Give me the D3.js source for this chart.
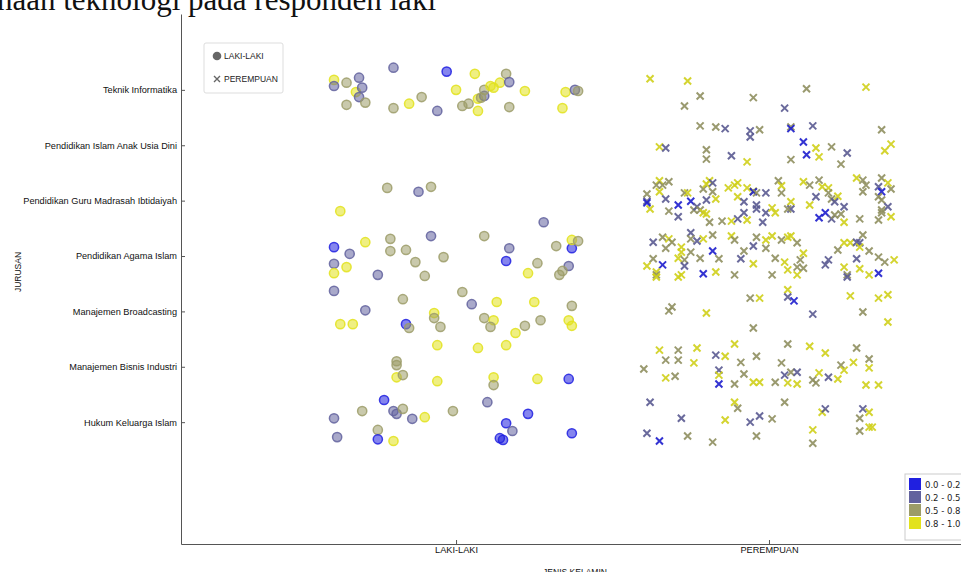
<!DOCTYPE html>
<html>
<head>
<meta charset="utf-8">
<script src="https://cdn.jsdelivr.net/npm/d3@7"></script>
<style>
  body { margin: 0; background: #fff; }
  svg { display: block; }
</style>
</head>
<body>
<svg></svg>
<script>
// kategori sumbu Y (atas ke bawah)
const jurusan = [
    'Teknik Informatika',
    'Pendidikan Islam Anak Usia Dini',
    'Pendidikan Guru Madrasah Ibtidaiyah',
    'Pendidikan Agama Islam',
    'Manajemen Broadcasting',
    'Manajemen Bisnis Industri',
    'Hukum Keluarga Islam'
];
const jenisKelamin = ['LAKI-LAKI', 'PEREMPUAN'];
const kelasNilai = ['0.0 - 0.2', '0.2 - 0.5', '0.5 - 0.8', '0.8 - 1.0'];

// [posisi jenis kelamin (dengan jitter), posisi jurusan (dengan jitter), kelas nilai]
const lakiLaki = [
    [-0.39, -0.18, 3], [-0.39, -0.07, 1], [-0.35, -0.13, 2], [-0.31, -0.22, 1], [-0.32, 0.04, 3],
    [-0.30, -0.04, 1], [-0.31, 0.13, 1], [-0.35, 0.27, 2], [-0.29, 0.23, 2], [-0.20, -0.40, 1],
    [-0.20, 0.33, 2], [-0.15, 0.25, 3], [-0.11, 0.13, 2], [-0.06, 0.38, 1], [-0.03, -0.33, 0],
    [0.00, 0.00, 3], [0.02, 0.29, 2], [0.04, 0.25, 2], [0.06, -0.29, 3], [0.07, 0.38, 3],
    [0.07, 0.16, 3], [0.09, 0.11, 1], [0.08, 0.14, 2], [0.09, 0.00, 2], [0.11, -0.07, 3],
    [0.12, -0.04, 3], [0.14, -0.13, 3], [0.16, -0.29, 2], [0.17, -0.14, 1], [0.17, 0.31, 2],
    [0.22, 0.02, 3], [0.34, 0.33, 3], [0.35, 0.04, 3], [0.38, 0.00, 1], [0.39, 0.02, 2],
    [-0.22, 1.77, 2], [-0.12, 1.84, 1], [-0.08, 1.75, 2], [-0.37, 2.19, 3], [0.28, 2.39, 1],
    [-0.39, 2.84, 0], [-0.34, 2.96, 1], [-0.29, 2.75, 3], [-0.21, 2.69, 2], [-0.21, 2.91, 2],
    [-0.16, 2.89, 2], [-0.08, 2.64, 1], [-0.13, 3.11, 2], [-0.04, 3.02, 2], [-0.39, 3.14, 1],
    [-0.35, 3.20, 3], [-0.39, 3.31, 3], [-0.25, 3.34, 1], [-0.10, 3.36, 2], [0.09, 2.64, 2],
    [0.17, 2.86, 1], [0.16, 3.09, 0], [0.26, 3.13, 2], [0.23, 3.31, 3], [0.32, 2.82, 2],
    [0.37, 2.86, 0], [0.37, 2.71, 3], [0.39, 2.73, 2], [0.36, 3.18, 1], [0.34, 3.27, 2],
    [0.33, 3.34, 2],
    [-0.39, 3.63, 1], [-0.17, 3.78, 2], [0.02, 3.65, 2], [0.05, 3.87, 1], [0.13, 3.83, 3],
    [0.25, 3.83, 3], [0.37, 3.90, 2], [-0.29, 3.98, 1], [-0.37, 4.23, 3], [-0.33, 4.23, 3],
    [-0.16, 4.23, 0], [-0.15, 4.30, 2], [-0.07, 4.03, 3], [-0.07, 4.12, 2], [-0.05, 4.28, 2],
    [0.09, 4.12, 2], [0.12, 4.16, 3], [0.11, 4.28, 2], [0.19, 4.39, 3], [0.22, 4.26, 2],
    [0.27, 4.16, 2], [0.36, 4.16, 3], [0.37, 4.26, 3],
    [-0.06, 4.61, 3], [0.07, 4.66, 3], [0.16, 4.61, 3], [-0.19, 4.90, 2], [-0.19, 4.97, 2],
    [-0.19, 5.19, 3], [-0.17, 5.15, 2], [-0.06, 5.26, 3], [0.12, 5.19, 3], [0.12, 5.33, 2],
    [0.26, 5.22, 3], [0.36, 5.22, 0],
    [-0.23, 5.60, 0], [-0.30, 5.80, 2], [-0.20, 5.80, 1], [-0.19, 5.85, 1], [-0.17, 5.76, 2],
    [-0.39, 5.93, 1], [-0.14, 5.94, 1], [-0.10, 5.91, 3], [-0.01, 5.80, 2], [0.10, 5.64, 1],
    [0.23, 5.85, 0], [0.16, 6.02, 0], [0.18, 6.16, 1], [-0.25, 6.14, 2], [-0.38, 6.27, 1],
    [-0.25, 6.31, 0], [-0.20, 6.34, 3], [0.14, 6.29, 0], [0.15, 6.32, 0], [0.37, 6.20, 0]
];

const perempuan = [
    [0.62, -0.20, 3], [0.74, -0.16, 3], [0.78, 0.11, 2], [0.73, 0.29, 2], [0.95, 0.14, 2],
    [1.12, -0.02, 2], [1.31, -0.05, 3], [1.05, 0.33, 1],
    [0.78, 0.65, 2], [0.83, 0.67, 2], [0.86, 0.70, 1], [0.94, 0.74, 1], [0.94, 0.85, 1],
    [0.97, 0.72, 2], [1.07, 0.67, 2], [1.07, 0.70, 0], [1.14, 0.65, 1], [1.36, 0.72, 2],
    [0.65, 1.03, 3], [0.67, 1.05, 1], [0.80, 1.08, 2], [0.80, 1.25, 2], [0.88, 1.19, 1],
    [0.93, 1.30, 3], [1.07, 1.26, 2], [1.11, 0.94, 0], [1.12, 1.17, 0], [1.15, 1.05, 3],
    [1.16, 1.21, 3], [1.20, 1.03, 2], [1.25, 1.14, 1], [1.39, 0.98, 3], [1.37, 1.10, 3],
    [1.23, 1.34, 2],
    [0.65, 1.64, 3], [0.64, 1.72, 2], [0.66, 1.72, 2], [0.68, 1.66, 2], [0.65, 1.84, 3],
    [0.61, 1.88, 2], [0.61, 2.01, 1], [0.61, 2.04, 0], [0.62, 2.15, 3], [0.67, 1.97, 1],
    [0.71, 2.08, 0], [0.73, 1.86, 2], [0.74, 1.86, 3], [0.75, 2.01, 0], [0.68, 2.19, 2],
    [0.71, 2.29, 1], [0.76, 2.17, 2], [0.77, 2.11, 1], [0.78, 2.17, 2], [0.79, 2.22, 3],
    [0.80, 1.99, 1], [0.79, 1.79, 2], [0.81, 1.64, 3], [0.80, 1.70, 3], [0.82, 1.68, 1],
    [0.82, 1.84, 2], [0.83, 1.97, 3], [0.80, 2.24, 3], [0.81, 2.39, 2], [0.85, 2.37, 2],
    [0.88, 2.37, 3], [0.87, 1.77, 3], [0.89, 1.72, 3], [0.90, 1.68, 3], [0.90, 1.93, 3],
    [0.92, 2.02, 1], [0.92, 2.22, 1], [0.90, 2.33, 1], [0.93, 2.35, 3], [0.93, 1.77, 3],
    [0.95, 1.83, 3], [0.95, 1.84, 0], [0.96, 1.86, 2], [0.96, 2.08, 1], [0.96, 2.15, 1],
    [0.99, 1.86, 1], [0.99, 2.22, 1], [0.98, 2.39, 1], [1.01, 2.13, 3], [1.02, 2.22, 3],
    [1.03, 1.64, 2], [1.04, 1.73, 3], [1.04, 1.86, 2], [1.07, 2.02, 3], [1.07, 2.15, 1],
    [1.06, 2.15, 2], [1.11, 1.66, 3], [1.13, 1.72, 2], [1.13, 2.08, 3], [1.15, 1.93, 1],
    [1.16, 1.63, 2], [1.17, 1.75, 3], [1.19, 1.77, 3], [1.19, 1.86, 2], [1.20, 1.97, 2],
    [1.22, 1.92, 3], [1.21, 2.02, 1], [1.24, 2.11, 1], [1.18, 2.22, 0], [1.16, 2.31, 0],
    [1.20, 2.33, 1], [1.21, 2.26, 2], [1.23, 2.24, 2], [1.24, 2.39, 3], [1.28, 1.59, 3],
    [1.30, 1.63, 2], [1.31, 1.72, 2], [1.30, 1.84, 2], [1.36, 1.59, 2], [1.38, 1.68, 3],
    [1.35, 1.75, 1], [1.36, 1.84, 0], [1.39, 1.79, 2], [1.35, 1.93, 2], [1.36, 1.99, 2],
    [1.38, 2.11, 1], [1.36, 2.17, 2], [1.36, 2.22, 2], [1.35, 2.35, 2], [1.39, 2.29, 3],
    [1.29, 2.33, 2],
    [0.63, 2.75, 1], [0.66, 2.66, 2], [0.68, 2.69, 3], [0.69, 2.75, 2], [0.67, 2.86, 2],
    [0.72, 2.84, 3], [0.72, 2.93, 3], [0.75, 2.58, 1], [0.75, 2.69, 2], [0.77, 2.73, 1],
    [0.79, 2.69, 3], [0.82, 2.62, 2], [0.75, 2.93, 2], [0.63, 3.05, 2], [0.61, 3.18, 3],
    [0.66, 3.16, 0], [0.71, 3.04, 3], [0.73, 3.07, 2], [0.73, 3.18, 1], [0.64, 3.29, 3],
    [0.64, 3.34, 2], [0.72, 3.34, 3], [0.78, 3.04, 2], [0.82, 2.91, 0], [0.84, 3.05, 2],
    [0.79, 3.32, 0], [0.83, 3.29, 3], [0.89, 3.34, 2], [0.88, 2.64, 3], [0.89, 2.71, 2],
    [0.92, 2.91, 2], [0.91, 3.05, 1], [0.95, 3.14, 3], [0.95, 2.82, 1], [0.96, 2.66, 2],
    [0.99, 2.71, 3], [0.99, 2.86, 2], [1.01, 2.64, 3], [1.04, 2.71, 2], [1.06, 2.66, 3],
    [1.07, 2.64, 3], [1.09, 2.76, 2], [1.02, 3.04, 2], [1.05, 3.11, 3], [1.06, 3.25, 3],
    [1.01, 3.34, 2], [1.11, 2.95, 3], [1.10, 3.07, 2], [1.09, 3.20, 2], [1.11, 3.22, 2],
    [1.19, 3.07, 1], [1.18, 3.16, 1], [1.22, 2.89, 2], [1.24, 2.76, 3], [1.26, 2.76, 3],
    [1.28, 2.75, 1], [1.29, 2.76, 1], [1.30, 2.62, 2], [1.29, 2.84, 3], [1.32, 2.91, 2],
    [1.35, 3.02, 2], [1.37, 3.11, 2], [1.40, 3.07, 3], [1.28, 3.05, 1], [1.24, 3.20, 3],
    [1.25, 3.34, 2], [1.29, 3.23, 3], [1.32, 3.34, 3], [1.35, 3.31, 0], [0.64, 3.38, 3],
    [0.71, 3.38, 3], [1.09, 3.34, 3], [1.25, 3.38, 1],
    [0.94, 3.76, 2], [0.97, 3.76, 3], [1.06, 3.61, 3], [1.06, 3.74, 1], [1.08, 3.81, 0],
    [1.26, 3.72, 3], [1.35, 3.76, 3], [1.38, 3.70, 3], [0.68, 3.99, 2], [0.69, 3.92, 2],
    [0.80, 4.03, 3], [1.14, 4.05, 1], [1.30, 4.01, 2], [1.38, 4.19, 3], [0.95, 4.30, 2],
    [0.65, 4.70, 3], [0.71, 4.70, 2], [0.77, 4.66, 3], [0.67, 4.88, 2], [0.71, 4.88, 2],
    [0.76, 4.93, 3], [0.60, 5.04, 2], [0.67, 5.20, 3], [0.70, 5.17, 2], [0.83, 4.79, 1],
    [0.86, 4.81, 3], [0.89, 4.59, 3], [0.91, 4.92, 2], [0.84, 5.06, 1], [0.84, 5.15, 3],
    [0.84, 5.31, 0], [0.89, 5.31, 2], [0.92, 5.13, 2], [0.96, 4.81, 2], [0.95, 5.28, 3],
    [0.97, 5.28, 3], [1.02, 5.28, 2], [1.04, 4.93, 2], [1.06, 4.59, 2], [1.05, 5.15, 1],
    [1.07, 5.10, 2], [1.09, 5.10, 1], [1.06, 5.29, 3], [1.09, 5.31, 3], [1.13, 4.63, 3],
    [1.14, 5.24, 2], [1.15, 5.29, 2], [1.16, 5.11, 3], [1.18, 4.75, 3], [1.19, 5.19, 1],
    [1.22, 5.22, 3], [1.23, 4.97, 2], [1.24, 5.06, 3], [1.27, 4.92, 3], [1.28, 4.66, 2],
    [1.32, 4.86, 2], [1.32, 5.02, 3], [1.31, 5.33, 3], [1.35, 5.33, 3],
    [0.62, 5.64, 1], [0.89, 5.64, 3], [0.90, 5.75, 2], [1.05, 5.64, 2], [0.72, 5.93, 1],
    [0.86, 5.96, 3], [0.94, 6.00, 1], [0.97, 5.89, 1], [1.01, 5.94, 2], [1.17, 5.82, 3],
    [1.18, 5.76, 1], [1.30, 5.76, 1], [1.32, 5.82, 3], [1.29, 5.93, 2], [1.32, 6.09, 3],
    [1.33, 6.09, 3], [1.29, 6.16, 2], [1.14, 6.14, 3], [0.61, 6.20, 1], [0.65, 6.34, 0],
    [0.74, 6.25, 2], [0.82, 6.36, 2], [0.96, 6.25, 2], [1.14, 6.38, 2]
];

const warna = ['#2020e0', '#62629e', '#9c9c68', '#e2e21c'];

const svgWidth = 961;
const svgHeight = 572;
const margin = { top: 14, right: 0, bottom: 28, left: 181 };
const font = 'Liberation Sans, Arial, sans-serif';

const svg = d3.select('svg')
    .attr('width', svgWidth)
    .attr('height', svgHeight)
    .style('font-family', font);

// skala: 0 = LAKI-LAKI, 1 = PEREMPUAN; 0..6 = urutan jurusan
const xScale = d3.scaleLinear()
    .domain([-0.879, 1.636])
    .range([margin.left, 968]);

const yScale = d3.scaleLinear()
    .domain([-1.37, 8.2])
    .range([margin.top, svgHeight - margin.bottom]);

const warnaSkala = d3.scaleOrdinal().domain([0, 1, 2, 3]).range(warna);

// judul (terpotong di tepi atas gambar)
svg.append('text')
    .attr('x', 436)
    .attr('y', 10)
    .attr('text-anchor', 'end')
    .attr('font-family', 'Liberation Serif, Times New Roman, serif')
    .attr('font-size', '31px')
    .attr('fill', '#111')
    .text('Tingkat penggunaan teknologi pada responden laki');

const plot = svg.append('g');

// titik laki-laki
plot.selectAll('.laki')
    .data(lakiLaki)
    .enter().append('circle')
    .attr('class', 'laki')
    .attr('cx', d => xScale(d[0]))
    .attr('cy', d => yScale(d[1]))
    .attr('r', 4.6)
    .attr('fill', d => warnaSkala(d[2]))
    .attr('fill-opacity', 0.55)
    .attr('stroke', d => warnaSkala(d[2]))
    .attr('stroke-opacity', 0.85)
    .attr('stroke-width', 1.5);

// titik perempuan
const silang = 'M-3.5,-3.5L3.5,3.5M-3.5,3.5L3.5,-3.5';
plot.selectAll('.perempuan')
    .data(perempuan)
    .enter().append('path')
    .attr('class', 'perempuan')
    .attr('transform', d => `translate(${xScale(d[0])},${yScale(d[1])})`)
    .attr('d', silang)
    .attr('fill', 'none')
    .attr('stroke', d => d3.color(warnaSkala(d[2])).darker(0.25))
    .attr('stroke-opacity', 0.9)
    .attr('stroke-width', 2);

// sumbu Y
const yAxis = svg.append('g')
    .attr('transform', `translate(${margin.left},0)`)
    .call(d3.axisLeft(yScale)
        .tickValues(d3.range(jurusan.length))
        .tickFormat(i => jurusan[i])
        .tickSizeInner(-4)
        .tickSizeOuter(0)
        .tickPadding(4));

// sumbu X
const xAxis = svg.append('g')
    .attr('transform', `translate(0,${svgHeight - margin.bottom})`)
    .call(d3.axisBottom(xScale)
        .tickValues(d3.range(jenisKelamin.length))
        .tickFormat(i => jenisKelamin[i])
        .tickSizeInner(-4)
        .tickSizeOuter(0)
        .tickPadding(2));

[yAxis, xAxis].forEach(ax => {
    ax.select('.domain').attr('stroke', '#555');
    ax.selectAll('.tick line').attr('stroke', '#555');
    ax.selectAll('.tick text')
        .attr('fill', '#111')
        .attr('font-family', font)
        .attr('font-size', '9.2px');
});

svg.append('text')
    .attr('transform', 'rotate(-90)')
    .attr('x', -272)
    .attr('y', 21)
    .attr('text-anchor', 'middle')
    .attr('font-size', '8.5px')
    .attr('fill', '#111')
    .text('JURUSAN');

svg.append('text')
    .attr('x', 575)
    .attr('y', 575)
    .attr('text-anchor', 'middle')
    .attr('font-size', '8.5px')
    .attr('fill', '#111')
    .text('JENIS KELAMIN');

// legenda bentuk
const legenda = svg.append('g').attr('transform', 'translate(204,43)');
legenda.append('rect')
    .attr('width', 79)
    .attr('height', 50)
    .attr('rx', 2)
    .attr('fill', '#fff')
    .attr('stroke', '#ddd');
legenda.append('circle')
    .attr('cx', 13)
    .attr('cy', 13)
    .attr('r', 4.3)
    .attr('fill', '#666');
legenda.append('path')
    .attr('transform', 'translate(13,36)')
    .attr('d', 'M-3,-3L3,3M-3,3L3,-3')
    .attr('stroke', '#666')
    .attr('stroke-width', 1.4);
legenda.selectAll('.lbl')
    .data(jenisKelamin)
    .enter().append('text')
    .attr('x', 20)
    .attr('y', (d, i) => 16 + i * 23)
    .attr('font-size', '8.5px')
    .attr('fill', '#222')
    .text(d => d);

// legenda warna
const legendaWarna = svg.append('g').attr('transform', 'translate(905,474)');
legendaWarna.append('rect')
    .attr('width', 70)
    .attr('height', 66)
    .attr('fill', '#fff')
    .attr('stroke', '#ccc');
legendaWarna.selectAll('.sw')
    .data(kelasNilai)
    .enter().append('rect')
    .attr('x', 4)
    .attr('y', (d, i) => 4 + i * 13)
    .attr('width', 12)
    .attr('height', 12)
    .attr('fill', (d, i) => warna[i]);
legendaWarna.selectAll('.tx')
    .data(kelasNilai)
    .enter().append('text')
    .attr('x', 20)
    .attr('y', (d, i) => 13.5 + i * 13)
    .attr('font-family', 'DejaVu Sans, sans-serif')
    .attr('font-size', '8.5px')
    .attr('fill', '#222')
    .text(d => d);
</script>
</body>
</html>
